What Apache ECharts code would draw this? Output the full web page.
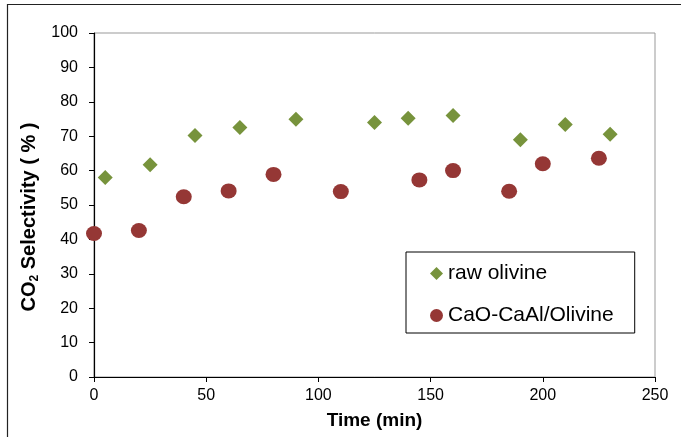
<!DOCTYPE html>
<html>
<head>
<meta charset="utf-8">
<script src="https://cdn.jsdelivr.net/npm/echarts@6/dist/echarts.min.js"></script>
<style>
  html, body { margin: 0; padding: 0; background: #fff; }
  #chart { width: 681px; height: 437px; }
</style>
</head>
<body>
<div id="chart"></div>
<script>
// time (min) and CO2 selectivity (%)
const rawTime = [5, 25, 45, 65, 90, 125, 140, 160, 190, 210, 230];
const rawSel = [58, 61.7, 70.2, 72.5, 74.9, 74, 75.2, 76, 69, 73.4, 70.6];
const caoTime = [0, 20, 40, 60, 80, 110, 145, 160, 185, 200, 225];
const caoSel = [41.7, 42.6, 52.4, 54.1, 58.9, 53.9, 57.3, 60, 54, 62, 63.6];
const xTicks = [0, 50, 100, 150, 200, 250];
const yTicks = [0, 10, 20, 30, 40, 50, 60, 70, 80, 90, 100];

const pairs = (xs, ys) => xs.map((x, i) => [x, ys[i]]);

const myChart = echarts.init(document.getElementById("chart"));

myChart.setOption({
  animation: false,
  textStyle: { fontFamily: "Liberation Sans, Arial, sans-serif" },
  graphic: [
    {
      type: "polyline",
      shape: { points: [[7.5, 437], [7.5, 4.5], [681, 4.5]] },
      style: { stroke: "#222", lineWidth: 1.2, fill: null },
    },
  ],
  grid: {
    left: 94,
    right: 26,
    top: 33,
    bottom: 60,
    show: true,
    borderColor: "#999",
    borderWidth: 1,
  },
  legend: {
    orient: "vertical",
    left: 406,
    top: 252,
    padding: [11, 21, 7, 24],
    itemGap: 21,
    itemWidth: 13,
    itemHeight: 13,
    borderColor: "#000",
    borderWidth: 1,
    textStyle: { fontSize: 21, color: "#000" },
    data: ["raw olivine", "CaO-CaAl/Olivine"],
  },
  xAxis: {
    type: "value",
    min: xTicks[0],
    max: xTicks[xTicks.length - 1],
    interval: 50,
    name: "Time (min)",
    nameLocation: "middle",
    nameGap: 34,
    nameTextStyle: { fontSize: 19, fontWeight: "bold", color: "#000" },
    axisLine: { show: true, lineStyle: { color: "#000", width: 1.2 } },
    axisTick: { show: true, inside: false, length: 5, lineStyle: { color: "#000" } },
    axisLabel: { fontSize: 16, color: "#000", margin: 11 },
    splitLine: { show: false },
  },
  yAxis: {
    type: "value",
    min: yTicks[0],
    max: yTicks[yTicks.length - 1],
    interval: 10,
    name: "{n|CO}{s|2}{n| Selectivity ( % )}",
    nameLocation: "middle",
    nameRotate: 90,
    nameGap: 47,
    nameTextStyle: {
      padding: [0, 24, 0, 0],
      rich: {
        n: { fontSize: 20, fontWeight: "bold", color: "#000", lineHeight: 22 },
        s: { fontSize: 12, fontWeight: "bold", color: "#000", lineHeight: 12, verticalAlign: "bottom" },
      },
    },
    axisLine: { show: true, lineStyle: { color: "#000", width: 1.2 } },
    axisTick: { show: true, inside: false, length: 5, lineStyle: { color: "#000" } },
    axisLabel: { fontSize: 16, color: "#000", margin: 16 },
    splitLine: { show: false },
  },
  series: [
    {
      name: "raw olivine",
      type: "scatter",
      symbol: "diamond",
      symbolSize: 15,
      itemStyle: { color: "#77933C", opacity: 1 },
      data: pairs(rawTime, rawSel),
    },
    {
      name: "CaO-CaAl/Olivine",
      type: "scatter",
      symbol: "circle",
      symbolSize: [16, 15],
      itemStyle: { color: "#953735", opacity: 1 },
      data: pairs(caoTime, caoSel),
    },
  ],
});
</script>
</body>
</html>
